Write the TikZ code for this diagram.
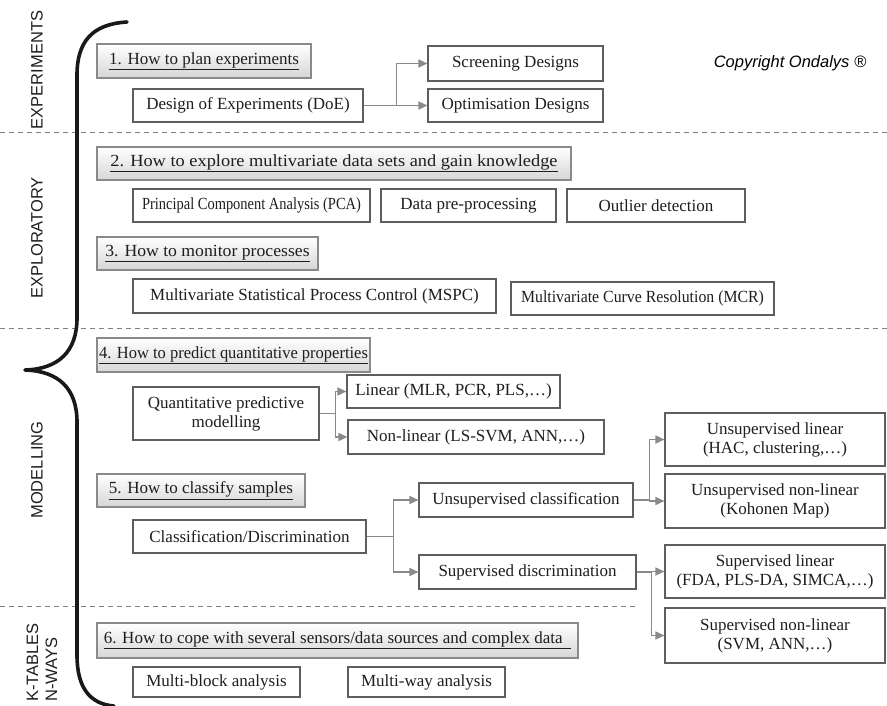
\documentclass[tikz,border=0pt]{standalone}
\usepackage{fontspec}
\usepackage{graphicx}
\setmainfont{Liberation Serif}
\setsansfont{Liberation Sans}
\usetikzlibrary{arrows.meta}
\definecolor{boxline}{HTML}{5E5E5E}
\definecolor{linkline}{HTML}{8A8A8A}
\definecolor{inktext}{HTML}{1E1E1E}
\definecolor{headbottom}{HTML}{D6D6D6}
\tikzset{
  plainbox/.style={draw=boxline, line width=1.1pt, fill=white, inner sep=2pt,
    align=center, text=inktext, font=\fontsize{17}{19}\selectfont},
  headbox/.style={draw=linkline, line width=1.1pt, top color=white, bottom color=headbottom,
    inner sep=2pt, align=center, text=inktext, font=\fontsize{17}{19}\selectfont},
  link/.style={draw=linkline, line width=1.6pt, -{Triangle[length=9pt,width=8pt]}},
  sectlabel/.style={rotate=90, font=\sffamily\fontsize{16.5}{19}\selectfont, text=inktext, inner sep=0pt},
  sep/.style={draw=gray, line width=1pt, dash pattern=on 5pt off 4pt},
  brace/.style={draw=black!90, line width=3.6pt, line cap=round, line join=round}
}
% horizontal squeeze/stretch of a label
\newcommand{\hsq}[2]{\scalebox{#1}[1]{#2}}
% \placebox{style}{name}{x1}{y1}{x2}{y2}{text}
\newcommand{\placebox}[7]{\node[#1, minimum width={#5-#3}, minimum height={#6-#4}] (#2) at ({(#3+#5)/2},{(#4+#6)/2}) {#7};}
\begin{document}
\begin{tikzpicture}[x=1pt, y=-1pt]
\useasboundingbox (0,0) rectangle (887,706);

% section separators
\draw[sep] (0,133) -- (887,133);
\draw[sep] (0,328) -- (887,328);
\draw[sep] (0,606) -- (635,606);

% section labels
\node[sectlabel] (lexp) at (37,70) {EXPERIMENTS};
\node[sectlabel] (lexpl) at (37,238) {EXPLORATORY};
\node[sectlabel] (lmod) at (37,470) {MODELLING};
\node[sectlabel, align=left, anchor=west] (lkt) at (42,702) {K-TABLES\\N-WAYS};

% curly brace
\draw[brace] (127,22) .. controls (92,24) and (77,42) .. (77,75)
  -- (77,318) .. controls (77,352) and (58,369) .. (25,370)
  .. controls (58,371) and (77,388) .. (77,422)
  -- (77,655) .. controls (77,688) and (90,704) .. (114,706);

\node[font=\sffamily\itshape\fontsize{16.5}{19}\selectfont, text=black] (copy) at (790,63) {Copyright Ondalys ®};

% 1. experiments
\placebox{headbox}{h1}{97}{44}{311}{78}{\underline{1. How to plan experiments}}
\placebox{plainbox}{doe}{133}{89}{363}{122}{Design of Experiments (DoE)}
\placebox{plainbox}{scr}{428}{46}{603}{81}{Screening Designs}
\placebox{plainbox}{opt}{428}{89}{603}{122}{Optimisation Designs}
\draw[link] (doe.east) -- ++(33,0) |- (scr.west);
\draw[link] (doe.east) -- (opt.west);

% 2. exploration
\placebox{headbox}{h2}{97}{147}{571}{180}{\hsq{1.08}{\underline{2. How to explore multivariate data sets and gain knowledge}}}
\placebox{plainbox}{pca}{133}{189}{370}{222}{\hsq{0.85}{Principal Component Analysis (PCA)}}
\placebox{plainbox}{pre}{381}{189}{556}{222}{Data pre-processing}
\placebox{plainbox}{outl}{567}{189}{745}{222}{Outlier detection}

% 3. monitoring
\placebox{headbox}{h3}{97}{237}{318}{270}{\hsq{1.04}{\underline{3. How to monitor processes}}}
\placebox{plainbox}{mspc}{133}{279}{496}{313}{Multivariate Statistical Process Control (MSPC)}
\placebox{plainbox}{mcr}{511}{282}{774}{315}{\hsq{0.93}{Multivariate Curve Resolution (MCR)}}

% 4. quantitative prediction
\placebox{headbox}{h4}{97}{338}{370}{372}{\hsq{0.97}{\underline{4. How to predict quantitative properties}}}
\placebox{plainbox}{qpm}{133}{387}{319}{440}{Quantitative predictive\\modelling}
\placebox{plainbox}{lin}{347}{375}{560}{408}{Linear (MLR, PCR, PLS,…)}
\placebox{plainbox}{nlin}{348}{420}{604}{454}{Non-linear (LS-SVM, ANN,…)}
\draw[link] (qpm.east) -- ++(16,0) |- (lin.west);
\draw[link] (qpm.east) -- ++(16,0) |- (nlin.west);

% 5. classification
\placebox{headbox}{h5}{97}{474}{305}{507}{\underline{5. How to classify samples}}
\placebox{plainbox}{cd}{133}{520}{366}{553}{Classification/Discrimination}
\placebox{plainbox}{uc}{419}{483}{633}{517}{Unsupervised classification}
\placebox{plainbox}{sd}{419}{555}{636}{589}{Supervised discrimination}
\draw[link] (cd.east) -- ++(27,0) |- (uc.west);
\draw[link] (cd.east) -- ++(27,0) |- (sd.west);
\placebox{plainbox}{ul}{665}{413}{885}{466}{Unsupervised linear\\(HAC, clustering,…)}
\placebox{plainbox}{unl}{665}{474}{885}{528}{Unsupervised non-linear\\(Kohonen Map)}
\placebox{plainbox}{sl}{665}{545}{885}{598}{Supervised linear\\(FDA, PLS-DA, SIMCA,…)}
\placebox{plainbox}{snl}{665}{608}{885}{663}{Supervised non-linear\\(SVM, ANN,…)}
\draw[link] (uc.east) -- ++(16,0) |- (ul.west);
\draw[link] (uc.east) -- ++(16,0) |- (unl.west);
\draw[link] (sd.east) -- ++(15,0) |- (sl.west);
\draw[link] (sd.east) -- ++(15,0) |- (snl.west);

% 6. multi-table data
\placebox{headbox}{h6}{97}{623}{578}{658}{\underline{6. How to cope with several sensors/data sources and complex data\ \ }}
\placebox{plainbox}{mb}{133}{667}{300}{697}{Multi-block analysis}
\placebox{plainbox}{mw}{348}{667}{505}{697}{Multi-way analysis}
\end{tikzpicture}
\end{document}
